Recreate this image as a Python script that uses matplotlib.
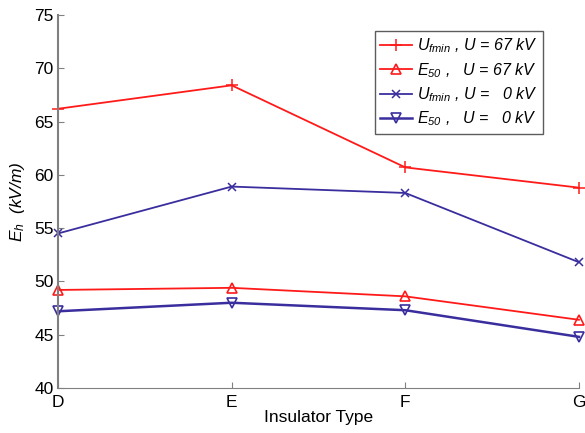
import numpy as np
import matplotlib.pyplot as plt

plt.rcParams['font.family'] = 'Liberation Sans'
plt.rcParams['mathtext.fontset'] = 'custom'
plt.rcParams['mathtext.it'] = 'Liberation Sans:italic'
plt.rcParams['mathtext.rm'] = 'Liberation Sans:italic'

insulators = ['D', 'E', 'F', 'G']
uf_67 = [66.2, 68.4, 60.7, 58.8]
e50_67 = [49.2, 49.4, 48.6, 46.4]
uf_0 = [54.5, 58.9, 58.3, 51.8]
e50_0 = [47.2, 48.0, 47.3, 44.8]

red = '#ff1a1a'
blue = '#3a2e9e'
x = np.arange(len(insulators))

fig = plt.figure(figsize=(5.85, 4.33), dpi=100)
ax = fig.add_axes([0.0991, 0.1039, 0.8906, 0.8615])

ax.plot(x, uf_67, color=red, lw=1.3, marker='+', ms=9, mew=1.1, clip_on=False,
        label=r'$U_{fmin}$ , $U$ = 67 kV')
ax.plot(x, e50_67, color=red, lw=1.3, marker='^', ms=7, mfc='none', mew=1.2, clip_on=False,
        label=r'$E_{50}$ ,   $U$ = 67 kV')
ax.plot(x, uf_0, color=blue, lw=1.3, marker='x', ms=6, mew=1.1, clip_on=False,
        label=r'$U_{fmin}$ , $U$ =   0 kV')
ax.plot(x, e50_0, color=blue, lw=1.8, marker='v', ms=7, mfc='none', mew=1.2, clip_on=False,
        label=r'$E_{50}$ ,   $U$ =   0 kV')

ax.set_xlim(0, 3)
ax.set_ylim(40, 75)
ax.set_xticks(x)
ax.set_xticklabels(insulators)
ax.set_yticks(np.arange(40, 76, 5))
ax.tick_params(direction='in', labelsize=12.5, length=4, color='#808080')
ax.tick_params(axis='y', pad=3)
ax.tick_params(axis='x', pad=5)
for s in ['top', 'right']:
    ax.spines[s].set_visible(False)
ax.spines['left'].set_color('#808080')
ax.spines['left'].set_linewidth(1.5)
ax.spines['bottom'].set_color('#808080')

ax.set_xlabel('Insulator Type', fontsize=12.5, labelpad=0)
ax.set_ylabel(r'$E_h$  (kV/m)', fontsize=12.5, fontstyle='italic')
ax.yaxis.set_label_coords(-0.06, 0.5)

leg = ax.legend(loc='upper right', bbox_to_anchor=(0.931, 0.957),
                borderaxespad=0, fancybox=False,
                prop={'style': 'italic', 'size': 11.5},
                handlelength=2.0, handletextpad=0.3, labelspacing=0.35, borderpad=0.35)
leg.get_frame().set_edgecolor('#333333')
leg.get_frame().set_linewidth(1.0)

fig.savefig('out.png', dpi=100)
